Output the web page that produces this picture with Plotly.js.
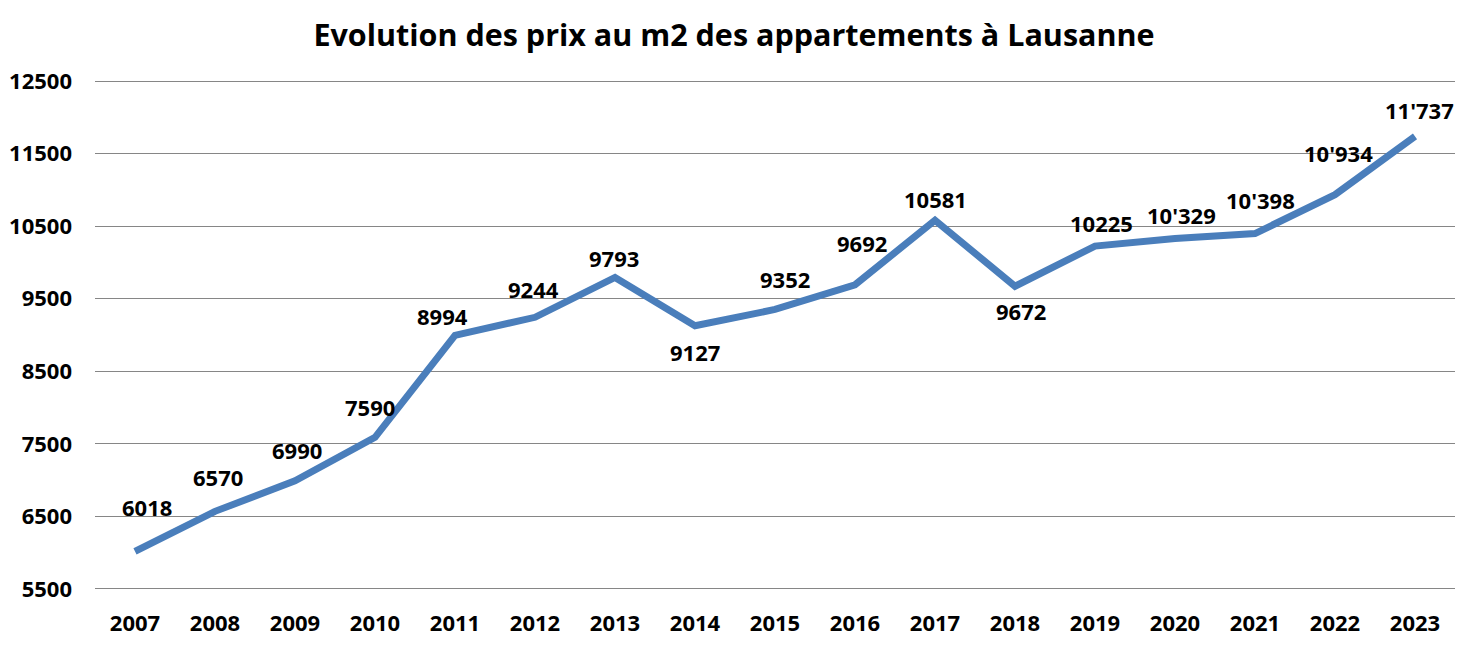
<!DOCTYPE html>
<html>
<head>
<meta charset="utf-8">
<script src="https://cdn.plot.ly/plotly-3.0.1.min.js"></script>
<style>
html,body{margin:0;padding:0;background:#fff;}
#chart{width:1468px;height:647px;}
</style>
</head>
<body>
<div id="chart"></div>
<script>
const years = ["2007","2008","2009","2010","2011","2012","2013","2014","2015","2016","2017","2018","2019","2020","2021","2022","2023"];
const prices = [6018, 6570, 6990, 7590, 8994, 9244, 9793, 9127, 9352, 9692, 10581, 9672, 10225, 10329, 10398, 10934, 11737];
const priceLabels = ["6018","6570","6990","7590","8994","9244","9793","9127","9352","9692","10581","9672","10225","10'329","10'398","10'934","11'737"];
const yTicks = [5500, 6500, 7500, 8500, 9500, 10500, 11500, 12500];

// label offsets in pixels (dx, dy up)
const labelDx = [12, 3, 2, -5, -13, -2, -1, 0, 10, 7, 0, 6, 6, 6, 5, 3, 4];
const labelDy = [44, 34, 31, 30, 19, 28, 19, -26, 30, 42, 21, -25, 23, 24, 34, 42, 26];

const font = "Open Sans, Noto Sans, Liberation Sans, sans-serif";

const trace = {
  x: years, y: prices, type: "scatter", mode: "lines",
  line: {color: "#4a7ebb", width: 7},
  hoverinfo: "x+y"
};

const annotations = years.map((yr, i) => ({
  x: i, y: prices[i], xref: "x", yref: "y",
  text: "<b>" + priceLabels[i] + "</b>", showarrow: false,
  xshift: labelDx[i], yshift: labelDy[i],
  font: {family: font, size: 22, color: "#000"}
}));

const layout = {
  width: 1468, height: 647,
  margin: {l: 95, r: 13, t: 80, b: 57},
  paper_bgcolor: "#fff", plot_bgcolor: "#fff",
  title: {text: "<b>Evolution des prix au m2 des appartements à Lausanne</b>",
          font: {family: font, size: 30.5, color: "#000"}, x: 0.5, xanchor: "center", y: 0.945, yanchor: "middle"},
  xaxis: {type: "category", showgrid: false, zeroline: false, showline: false,
          ticks: "", tickfont: {family: font, size: 22, color: "#000"}, tickangle: 0,
          ticklabelstandoff: 18, range: [-0.5, years.length - 0.5], fixedrange: true,
          tickvals: years, ticktext: years.map(v => "<b>" + v + "</b>")},
  yaxis: {range: [5486, 12514], tickvals: yTicks, ticktext: yTicks.map(v => "<b>" + v + "</b>"),
          showgrid: true, gridcolor: "#868686", gridwidth: 1, zeroline: false, showline: false,
          ticks: "", ticklabelstandoff: 22,
          tickfont: {family: font, size: 22, color: "#000"}, fixedrange: true},
  annotations: annotations,
  showlegend: false
};

Plotly.newPlot("chart", [trace], layout, {displayModeBar: false, staticPlot: true});
</script>
</body>
</html>
